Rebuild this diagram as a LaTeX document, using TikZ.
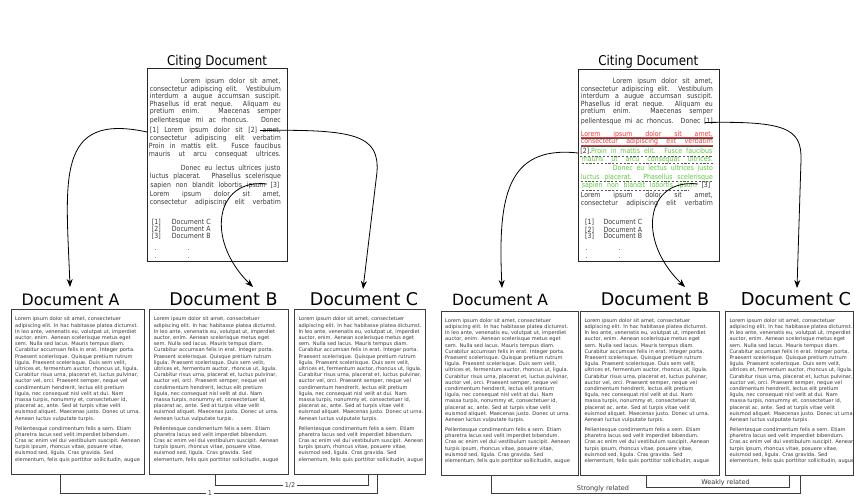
\documentclass[tikz,border=0pt]{standalone}
\usepackage{fontspec}
\setmainfont{DejaVu Sans}
\newfontfamily\condfont[FakeStretch=0.88]{DejaVu Sans}
\usetikzlibrary{arrows.meta,calc}
\definecolor{txt}{RGB}{55,55,55}
\definecolor{boxc}{RGB}{60,60,60}
\definecolor{hlred}{RGB}{232,60,60}
\definecolor{hlgreen}{RGB}{95,200,65}
\newcommand\cfont{\condfont\fontsize{7.1}{8}\selectfont}
\newcommand\dfont{\fontsize{5.05}{6.2}\selectfont}
\newcommand\doctext{Lorem ipsum dolor sit amet, consectetuer\\
adipiscing elit. In hac habitasse platea dictumst.\\
In leo ante, venenatis eu, volutpat ut, imperdiet\\
auctor, enim. Aenean scelerisque metus eget\\
sem. Nulla sed lacus. Mauris tempus diam.\\
Curabitur accumsan felis in erat. Integer porta.\\
Praesent scelerisque. Quisque pretium rutrum\\
ligula. Praesent scelerisque. Duis sem velit,\\
ultrices et, fermentum auctor, rhoncus ut, ligula.\\
Curabitur risus urna, placerat et, luctus pulvinar,\\
auctor vel, orci. Praesent semper, neque vel\\
condimentum hendrerit, lectus elit pretium\\
ligula, nec consequat nisl velit at dui. Nam\\
massa turpis, nonummy et, consectetuer id,\\
placerat ac, ante. Sed at turpis vitae velit\\
euismod aliquet. Maecenas justo. Donec ut urna.\\
Aenean luctus vulputate turpis.\\[3.8pt]
Pellentesque condimentum felis a sem. Etiam\\
pharetra lacus sed velit imperdiet bibendum.\\
Cras ac enim vel dui vestibulum suscipit. Aenean\\
turpis ipsum, rhoncus vitae, posuere vitae,\\
euismod sed, ligula. Cras gravida. Sed\\
elementum, felis quis porttitor sollicitudin, augue}
% justified citing line: name, x, baseline y, width, text
\newcommand\CL[5]{\node[cline] (#1) at (#2,#3) {\makebox[#4pt][s]{#5}};}
\tikzset{
  cline/.style={anchor=base west, inner sep=0pt, font=\cfont, text=txt},
  docbox/.style={draw=boxc, line width=1pt, anchor=north west, inner sep=0pt},
  citebox/.style={draw=black!85, line width=1pt, anchor=north west, inner sep=0pt},
  doctxt/.style={anchor=north west, inner sep=0pt, font=\dfont, text=txt, align=left},
  ttl/.style={anchor=base, inner sep=0pt},
  cttl/.style={anchor=base, inner sep=0pt, font=\condfont\fontsize{13.5}{15}\selectfont},
  cite/.style={-{Stealth[length=8pt,width=6pt,inset=2.5pt]}, line width=0.8pt},
  brk/.style={draw=boxc, line width=0.8pt},
  brklab/.style={fill=white, inner sep=1.5pt, font=\fontsize{6.5}{7}\selectfont, text=txt},
  rellab/.style={inner sep=0pt, anchor=base, font=\fontsize{6.5}{7}\selectfont, text=txt},
  redrule/.style={draw=hlred, line width=0.6pt},
  grayrule/.style={draw=black!70, line width=0.8pt},
  dashrule/.style={draw=black!65, line width=0.6pt, dash pattern=on 2.2pt off 1.6pt},
}
\begin{document}
\begin{tikzpicture}[x=1pt,y=-1pt]
\useasboundingbox (0,0) rectangle (854,496);

%================ LEFT PANEL ================
\node[cttl] (tCitL) at (217,65) {Citing Document};
\node[citebox, minimum width=140pt, minimum height=193pt] (cbL) at (147,68) {};
\CL{la1}{180.7}{83.7}{99.5}{Lorem ipsum dolor sit amet,}
\CL{la2}{149.7}{91}{131}{consectetur adipiscing elit. Vestibulum}
\CL{la3}{149.7}{98.7}{131}{interdum a augue accumsan suscipit.}
\CL{la4}{149.7}{106}{131}{Phasellus id erat neque. Aliquam eu}
\CL{la5}{149.7}{113.7}{131}{pretium enim. Maecenas semper}
\CL{la6}{149.7}{122}{131}{pellentesque mi ac rhoncus. Donec}
\CL{la7}{149.7}{132.7}{131}{[1] Lorem ipsum dolor sit [2] amet,}
\CL{la8}{149.7}{140.3}{131}{consectetur adipiscing elit verbatim}
\CL{la9}{148.7}{148.7}{132}{Proin in mattis elit. Fusce faucibus}
\CL{la10}{148.7}{156}{132}{mauris ut arcu consequat ultrices.}
\CL{la11}{180.7}{170.3}{99.5}{Donec eu lectus ultrices justo}
\CL{la12}{149.7}{178.7}{131}{luctus placerat. Phasellus scelerisque}
\CL{la13}{150.2}{187.7}{129}{sapien non blandit lobortis ipsum [3]}
\CL{la14}{149.7}{196}{131}{Lorem ipsum dolor sit amet,}
\CL{la15}{149.7}{204.7}{131}{consectetur adipiscing elit verbatim}
\node[cline] (lr1) at (151.7,224.7) {[1]};
\node[cline] (lr1d) at (171.7,224.7) {Document C};
\node[cline] (lr2) at (151.7,231.7) {[2]};
\node[cline] (lr2d) at (171.7,231.7) {Document A};
\node[cline] (lr3) at (151.7,238.3) {[3]};
\node[cline] (lr3d) at (171.7,238.3) {Document B};
\node[cline] (ld1) at (154.5,250) {.};
\node[cline] (ld2) at (187.5,250) {.};
\node[cline] (ld3) at (154.5,258.5) {.};
\node[cline] (ld4) at (187.5,258.5) {.};

\node[ttl, font=\fontsize{15.8}{18}\selectfont] (tAL) at (70.5,305) {Document A};
\node[ttl, font=\fontsize{17.5}{20}\selectfont] (tBL) at (223.5,305) {Document B};
\node[ttl, font=\fontsize{17.5}{20}\selectfont] (tCL) at (364,305) {Document C};

\node[docbox, minimum width=133.3pt, minimum height=165pt] (bAL) at (10.7,309.3) {};
\node[docbox, minimum width=139pt, minimum height=165pt] (bBL) at (149.3,309.3) {};
\node[docbox, minimum width=131pt, minimum height=165pt] (bCL) at (294,309.3) {};
\node[doctxt] (xAL) at ($(bAL.north west)+(4.3,7.6)$) {\doctext};
\node[doctxt] (xBL) at ($(bBL.north west)+(4.3,7.6)$) {\doctext};
\node[doctxt] (xCL) at ($(bCL.north west)+(4.3,7.6)$) {\doctext};

% citation arrows (left)
\coordinate (s1L) at (147,132);
\coordinate (s2L) at (260,130.5);
\coordinate (s3L) at (267,184);
\coordinate (e1L) at (70,287);
\coordinate (e2L) at (363,289);
\coordinate (e3L) at (253,287);
\draw[cite] (s1L) .. controls (55,112) and (66,180) .. (e1L);
\draw[cite] (s2L) .. controls (355,129) and (379.5,135) .. (377,172) -- (e2L);
\draw[cite] (s3L) .. controls (215,178) and (205,240) .. (e3L);

% brackets (left)
\draw[brk] ($(bAL.south west)+(50,0)$) |- (377,493) -- ($(bCL.south west)+(83,0)$);
\draw[brk] ($(bBL.south west)+(65.7,0)$) |- (368.3,485) -- ($(bCL.south west)+(74.3,0)$);
\node[brklab] (lab1) at (210,493) {1};
\node[brklab] (lab2) at (290,485) {1/2};

%================ RIGHT PANEL ================
\node[cttl] (tCitR) at (648.3,65) {Citing Document};
\node[citebox, minimum width=140.3pt, minimum height=191.7pt] (cbR) at (578.3,69.3) {};
\CL{ra1}{612.7}{83.7}{100}{Lorem ipsum dolor sit amet,}
\CL{ra2}{580.7}{91}{132}{consectetur adipiscing elit. Vestibulum}
\CL{ra3}{580.7}{98.7}{132}{interdum a augue accumsan suscipit.}
\CL{ra4}{580.7}{106}{132}{Phasellus id erat neque. Aliquam eu}
\CL{ra5}{580.7}{113.7}{132}{pretium enim. Maecenas semper}
\CL{ra6}{580.7}{123.7}{132}{pellentesque mi ac rhoncus. Donec [1]}
\CL{ra7}{580.7}{136}{132}{\color{hlred}Lorem ipsum dolor sit amet,}
\CL{ra8}{580.7}{143.7}{132}{\color{hlred}consectetur adipiscing elit verbatim}
\CL{ra9}{580.2}{153.7}{132}{[2].\color{hlgreen}Proin in mattis elit. Fusce faucibus}
\CL{ra10}{581.7}{161}{131}{\color{hlgreen}mauris ut arcu consequat ultrices.}
\CL{ra11}{612.7}{170.3}{100}{\color{hlgreen}Donec eu lectus ultrices justo}
\CL{ra12}{580.7}{179.3}{132}{\color{hlgreen}luctus placerat. Phasellus scelerisque}
\CL{ra13}{581.7}{187.7}{128.5}{{\color{hlgreen}sapien non blandit lobortis ipsum} [3]}
\CL{ra14}{580.7}{197}{132}{Lorem ipsum dolor sit amet,}
\CL{ra15}{580.7}{205.3}{132}{consectetur adipiscing elit verbatim}
\node[cline] (rr1) at (585,224.7) {[1]};
\node[cline] (rr1d) at (603.3,224.7) {Document C};
\node[cline] (rr2) at (585,232) {[2]};
\node[cline] (rr2d) at (603.3,232) {Document A};
\node[cline] (rr3) at (585,238.3) {[3]};
\node[cline] (rr3d) at (603.3,238.3) {Document B};
\node[cline] (rd1) at (585.5,250.3) {.};
\node[cline] (rd2) at (618.5,250.3) {.};
\node[cline] (rd3) at (585.5,258.7) {.};
\node[cline] (rd4) at (618.5,258.7) {.};

% highlight rules
\draw[redrule] ($(ra7.base west)+(0,1.3)$) -- ($(ra7.base east)+(0,1.3)$);
\draw[grayrule] ($(ra7.base west)+(0,2.8)$) -- ($(ra7.base east)+(0,2.8)$);
\draw[redrule] ($(ra8.base west)+(0,1.3)$) -- ($(ra8.base east)+(0,1.3)$);
\draw[grayrule] ($(ra8.base west)+(0,2.8)$) -- ($(ra8.base east)+(0,2.8)$);
\draw[dashrule] ($(ra9.base west)+(0,2.2)$) -- ($(ra9.base east)+(0,2.2)$);
\draw[dashrule] ($(ra10.base west)+(0,2.2)$) -- ($(ra10.base east)+(0,2.2)$);
\draw[dashrule] ($(ra12.base west)+(0,2.2)$) -- ($(ra12.base east)+(0,2.2)$);
\draw[dashrule] ($(ra13.base west)+(0,2.2)$) -- ($(ra13.base west)+(107,2.2)$);

\node[ttl, font=\fontsize{15.5}{18}\selectfont] (tAR) at (500,305) {Document A};
\node[ttl, font=\fontsize{17.5}{20}\selectfont] (tBR) at (655,305) {Document B};
\node[ttl, font=\fontsize{17.8}{20}\selectfont] (tCR) at (796,305) {Document C};

\node[docbox, minimum width=137pt, minimum height=164.3pt] (bAR) at (440.7,310.7) {};
\node[docbox, minimum width=139pt, minimum height=164.3pt] (bBR) at (580,310.7) {};
\node[docbox, minimum width=128.3pt, minimum height=164.3pt] (bCR) at (725,310.7) {};
\node[doctxt] (xAR) at ($(bAR.north west)+(4.3,7.6)$) {\doctext};
\node[doctxt] (xBR) at ($(bBR.north west)+(4.3,7.6)$) {\doctext};
\node[doctxt] (xCR) at ($(bCR.north west)+(4.3,7.6)$) {\doctext};

% citation arrows (right)
\coordinate (s1R) at (705,122.5);
\coordinate (s2R) at (578,153);
\coordinate (s3R) at (698,184);
\coordinate (e1R) at (797,288);
\coordinate (e2R) at (502,288);
\coordinate (e3R) at (685,287);
\draw[cite] (s1R) .. controls (785,121) and (802,128) .. (801,160) -- (e1R);
\draw[cite] (s2R) .. controls (505,145) and (498,200) .. (e2R);
\draw[cite] (s3R) .. controls (646,178) and (636,240) .. (e3R);

% brackets (right)
\draw[brk] ($(bAR.south west)+(51,0)$) |- (800,493.3) -- ($(bCR.south west)+(75,0)$);
\draw[brk] ($(bBR.south west)+(66.7,0)$) |- (789.3,487.3) -- ($(bCR.south west)+(64.3,0)$);
\node[rellab] (labS) at (603,490) {Strongly related};
\node[rellab] (labW) at (725.5,484.5) {Weakly related};
\end{tikzpicture}
\end{document}
